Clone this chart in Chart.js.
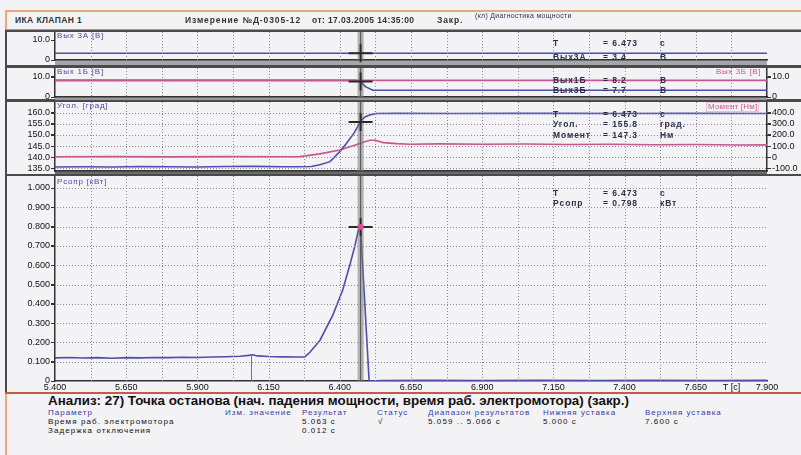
<!DOCTYPE html>
<html>
<head>
<meta charset="utf-8">
<script src="https://cdn.jsdelivr.net/npm/chart.js@4.4.0/dist/chart.umd.min.js"></script>
<style>
  body { margin: 0; width: 801px; height: 455px; background: #f3f3f6; position: relative; overflow: hidden;
         font-family: "Liberation Sans", Arial, sans-serif; color: #222; }
  .frame { position: absolute; left: 5px; top: 10px; width: 796px; height: 445px; box-sizing: border-box;
           border-left: 2px solid #eba680; border-top: 2px solid #eba680; }
  .titlebar { position: absolute; left: 5px; top: 12px; width: 796px; height: 17px; border-bottom: 1px solid #b49a86; }
  .panel { position: absolute; left: 5px; width: 796px; box-sizing: border-box; border-top: 2px solid #4a4a4a; border-left: 2px solid #4a4a4a; }
  canvas { position: absolute; left: 5px; }
  .t { position: absolute; white-space: nowrap; font-size: 8px; line-height: 10px; }
  .ro { font-weight: bold; color: #2e2e48; font-size: 8.5px; letter-spacing: 0.9px; }
  .lbl { color: #4a4aa8; font-size: 8px; letter-spacing: 0.8px; }
  .lblp { color: #c9568f; font-size: 8px; letter-spacing: 0.6px; }
  .hd { color: #3a3aa0; font-size: 8px; letter-spacing: 1px; }
  .row { color: #111; font-size: 8px; letter-spacing: 1.1px; }
  .ti { font-weight: bold; font-size: 8.5px; letter-spacing: 0.9px; color: #333; }
  .redline { position: absolute; left: 5px; top: 392px; width: 796px; height: 2px; background: #c8584a; }
</style>
</head>
<body>
<div class="frame"></div>
<div class="titlebar"></div>

<div class="panel" style="top:30px;height:36px;border-bottom:1px solid #4a4a4a"></div>
<div class="panel" style="top:66px;height:34px;border-bottom:1px solid #4a4a4a"></div>
<div class="panel" style="top:100px;height:74px"></div>
<div class="panel" style="top:174px;height:218px"></div>

<canvas id="p1" width="796" height="33" style="top:32px"></canvas>
<canvas id="p2" width="796" height="32" style="top:68px"></canvas>
<canvas id="p3" width="796" height="72" style="top:102px"></canvas>
<canvas id="p4" width="796" height="216" style="top:176px"></canvas>

<div class="redline"></div>

<!-- title row -->
<div class="t ti" style="left:15px;top:15px;letter-spacing:0.4px">ИКА КЛАПАН 1</div>
<div class="t ti" style="left:185px;top:15px">Измерение №Д-0305-12</div>
<div class="t ti" style="left:312px;top:15px;letter-spacing:0.4px">от: 17.03.2005 14:35:00</div>
<div class="t ti" style="left:437px;top:15px">Закр.</div>
<div class="t" style="left:475px;top:11px;font-size:7px;letter-spacing:0.3px;color:#33334a">(кл) Диагностика мощности</div>

<!-- series labels -->
<div class="t lbl" style="left:57px;top:31px">Вых 3А [В]</div>
<div class="t lbl" style="left:57px;top:67px">Вых 1Б [В]</div>
<div class="t lblp" style="left:716px;top:67px">Вых 3Б [В]</div>
<div class="t lbl" style="left:57px;top:101px">Угол. [град]</div>
<div class="t lblp" style="left:706px;top:102px;border:1px solid #e6c4d6;padding:0 1px;line-height:8px;letter-spacing:0.2px">Момент [Нм]</div>
<div class="t lbl" style="left:57px;top:177px">Рсопр [кВт]</div>

<!-- cursor readouts -->
<div class="t ro" style="left:553px;top:38px">T</div><div class="t ro" style="left:603px;top:38px">= 6.473</div><div class="t ro" style="left:660px;top:38px">с</div>
<div class="t ro" style="left:553px;top:52px">Вых3А</div><div class="t ro" style="left:603px;top:52px">= 3.4</div><div class="t ro" style="left:660px;top:52px">В</div>
<div class="t ro" style="left:553px;top:75px">Вых1Б</div><div class="t ro" style="left:603px;top:75px">= 8.2</div><div class="t ro" style="left:660px;top:75px">В</div>
<div class="t ro" style="left:553px;top:85px">Вых3Б</div><div class="t ro" style="left:603px;top:85px">= 7.7</div><div class="t ro" style="left:660px;top:85px">В</div>
<div class="t ro" style="left:553px;top:109px">T</div><div class="t ro" style="left:603px;top:109px">= 6.473</div><div class="t ro" style="left:660px;top:109px">с</div>
<div class="t ro" style="left:553px;top:119px">Угол.</div><div class="t ro" style="left:603px;top:119px">= 155.8</div><div class="t ro" style="left:660px;top:119px">град.</div>
<div class="t ro" style="left:553px;top:130px">Момент</div><div class="t ro" style="left:603px;top:130px">= 147.3</div><div class="t ro" style="left:660px;top:130px">Нм</div>
<div class="t ro" style="left:553px;top:188px">T</div><div class="t ro" style="left:603px;top:188px">= 6.473</div><div class="t ro" style="left:660px;top:188px">с</div>
<div class="t ro" style="left:553px;top:198px">Рсопр</div><div class="t ro" style="left:603px;top:198px">= 0.798</div><div class="t ro" style="left:660px;top:198px">кВт</div>

<!-- analysis block -->
<div class="t" style="left:48px;top:394px;font-size:13.4px;line-height:14px;font-weight:bold;color:#111">Анализ: 27) Точка останова (нач. падения мощности, время раб. электромотора) (закр.)</div>
<div class="t hd" style="left:48px;top:408px">Параметр</div>
<div class="t hd" style="left:225px;top:408px">Изм. значение</div>
<div class="t hd" style="left:302px;top:408px">Результат</div>
<div class="t hd" style="left:377px;top:408px">Статус</div>
<div class="t hd" style="left:428px;top:408px">Диапазон результатов</div>
<div class="t hd" style="left:543px;top:408px">Нижняя уставка</div>
<div class="t hd" style="left:645px;top:408px">Верхняя уставка</div>
<div class="t row" style="left:48px;top:417px">Время раб. электромотора</div>
<div class="t row" style="left:302px;top:417px">5.063 с</div>
<div class="t row" style="left:378px;top:417px">√</div>
<div class="t row" style="left:428px;top:417px">5.059 .. 5.066 с</div>
<div class="t row" style="left:543px;top:417px">5.000 с</div>
<div class="t row" style="left:645px;top:417px">7.600 с</div>
<div class="t row" style="left:48px;top:426px">Задержка отключения</div>
<div class="t row" style="left:302px;top:426px">0.012 с</div>

<script>
// time axis
const timeMin = 5.4, timeMax = 7.9;
const cursorT = 6.473;
const gridTimes = [5.4, 5.525, 5.65, 5.775, 5.9, 6.025, 6.15, 6.275, 6.4, 6.525, 6.65,
                   6.775, 6.9, 7.025, 7.15, 7.275, 7.4, 7.525, 7.65, 7.775, 7.9];
const xLabelTimes = [5.4, 5.65, 5.9, 6.15, 6.4, 6.65, 6.9, 7.15, 7.4, 7.65, 7.775, 7.9];
const xLabelTexts = ['5.400', '5.650', '5.900', '6.150', '6.400', '6.650', '6.900', '7.150', '7.400', '7.650', 'T [с]', '7.900'];

// panel 1: Вых 3А [В]
const out3aT = [5.4, 6.0, 6.5, 7.0, 7.9];
const out3aV = [3.4, 3.4, 3.4, 3.4, 3.4];
const p1Ticks = [0, 10];

// panel 2: Вых 1Б / Вых 3Б [В]
const out1bT = [5.4, 6.5, 7.9];
const out1bV = [8.3, 8.3, 8.3];
const out3bT = [5.4, 6.455, 6.473, 6.49, 6.516, 7.9];
const out3bV = [8.3, 8.3, 7.7, 5.2, 3.4, 3.4];
const p2Ticks = [0, 10];

// panel 3: Угол [град] (left), Момент [Нм] (right)
const angleT = [5.4, 5.5, 5.6, 5.7, 5.8, 5.9, 6.0, 6.1, 6.2, 6.25, 6.30, 6.33, 6.366, 6.40, 6.423, 6.45, 6.476, 6.49, 6.505, 6.529, 6.6, 6.8, 7.0, 7.2, 7.4, 7.6, 7.9];
const angleV = [135.6, 135.7, 135.6, 135.8, 135.7, 135.6, 135.8, 135.9, 135.7, 135.7, 135.8, 136.6, 138.0, 142.5, 146.2, 150.8, 156.7, 158.2, 159.0, 159.6, 159.7, 159.6, 159.7, 159.7, 159.6, 159.7, 159.6];
const momentT = [5.4, 5.6, 5.8, 6.0, 6.2, 6.26, 6.33, 6.40, 6.447, 6.482, 6.506, 6.524, 6.553, 6.60, 6.646, 6.75, 6.9, 7.05, 7.2, 7.35, 7.5, 7.65, 7.8, 7.9];
const momentV = [4, 5, 3, 5, 4, 5, 30, 65, 102, 135, 152, 152, 131, 122, 117, 120, 116, 119, 114, 116, 112, 114, 110, 111];
const angleTicks = [135, 140, 145, 150, 155, 160];
const momentTicks = [-100, 0, 100, 200, 300, 400];

// panel 4: Рсопр [кВт]
const powerT = [5.4, 5.45, 5.5, 5.55, 5.6, 5.65, 5.7, 5.75, 5.8, 5.85, 5.9, 5.95, 6.0, 6.05, 6.08, 6.095, 6.11, 6.15, 6.2, 6.25,
                6.277, 6.295, 6.33, 6.375, 6.41, 6.435, 6.453, 6.468, 6.473, 6.503, 6.55, 6.7, 6.9, 7.1, 7.3, 7.5, 7.7, 7.9];
const powerV = [0.120, 0.122, 0.119, 0.121, 0.118, 0.121, 0.120, 0.122, 0.121, 0.123, 0.122, 0.124, 0.126, 0.128, 0.133, 0.136, 0.130, 0.127, 0.125, 0.124,
                0.125, 0.149, 0.21, 0.34, 0.47, 0.60, 0.70, 0.80, 0.79, 0.0, 0.002, 0.003, 0.002, 0.003, 0.002, 0.003, 0.002, 0.003];
const powerTicks = [0, 0.1, 0.2, 0.3, 0.4, 0.5, 0.6, 0.7, 0.8, 0.9, 1.0];
const markT = 6.09, markV = 0.14;

const FONT = '"Liberation Sans", Arial, sans-serif';
const BLUE = '#4d4fa8';
const PINK = '#c9568f';
const GRID = '#8a8a98';

const pts = (ts, vs) => ts.map((t, i) => ({ x: t, y: vs[i] }));

function line(ts, vs, color, axis) {
  return { data: pts(ts, vs), borderColor: color, borderWidth: 1.6, pointRadius: 0, tension: 0, yAxisID: axis || 'y' };
}

function xScale(h, showLabels) {
  return {
    type: 'linear', min: timeMin, max: timeMax,
    afterBuildTicks: s => { s.ticks = gridTimes.map(v => ({ value: v })); },
    afterFit: s => { s.height = h; s.paddingLeft = 0; s.paddingRight = 0; },
    ticks: {
      display: showLabels, autoSkip: false, maxRotation: 0, padding: 1,
      font: { size: 9, family: FONT }, color: '#111',
      callback: v => {
        const i = xLabelTimes.findIndex(t => Math.abs(t - v) < 1e-6);
        return i < 0 ? '' : xLabelTexts[i];
      }
    },
    grid: { display: true, drawOnChartArea: false, color: GRID, lineWidth: 1, drawTicks: false },
    border: { display: true, color: '#333', width: 1.5, dash: [2, 2] }
  };
}

function yScale(pos, min, max, ticks, fmt, width) {
  return {
    position: pos, min: min, max: max,
    afterBuildTicks: s => { s.ticks = ticks.map(v => ({ value: v })); },
    afterFit: s => { s.width = width; s.paddingTop = 0; s.paddingBottom = 0; },
    ticks: { autoSkip: false, padding: 1, font: { size: 9, family: FONT }, color: '#111', callback: fmt },
    grid: { display: true, drawOnChartArea: false, color: GRID, lineWidth: 1, tickColor: '#333', tickLength: 4 },
    border: { display: true, color: '#333', width: 1.5, dash: [2, 2] }
  };
}

// dotted grid (1px dots) at the scale ticks + small tick marks on the value axes
const gridPlugin = {
  id: 'dotgrid',
  afterDatasetsDraw(chart, args, o) {
    const { ctx, chartArea: a, scales } = chart;
    ctx.save();
    ctx.fillStyle = GRID;
    scales.x.ticks.forEach(t => {
      const px = Math.round(scales.x.getPixelForValue(t.value));
      if (px <= a.left + 2 || px >= a.right - 1) return;
      for (let y = Math.ceil(a.top); y < a.bottom; y += 3) ctx.fillRect(px, y, 1, 1);
    });
    if (o.horizontal) {
      scales.y.ticks.forEach(t => {
        const py = Math.round(scales.y.getPixelForValue(t.value));
        if (py <= a.top || py >= a.bottom - 2) return;
        for (let x = Math.ceil(a.left) + 2; x < a.right; x += 3) ctx.fillRect(x, py, 1, 1);
      });
    }
    ctx.fillStyle = '#333';
    ['y', 'y2'].forEach(id => {
      const s = scales[id];
      if (!s) return;
      const left = s.position === 'left';
      s.ticks.forEach(t => {
        const py = Math.round(s.getPixelForValue(t.value));
        ctx.fillRect(left ? Math.round(a.left) - 4 : Math.round(a.right), py, 4, 1);
      });
    });
    ctx.restore();
  }
};

// gray time strip under the plot area
const stripPlugin = {
  id: 'strip',
  beforeDraw(chart, args, o) {
    if (!o.stripColor) return;
    const s = chart.scales.x;
    chart.ctx.save();
    chart.ctx.fillStyle = o.stripColor;
    chart.ctx.fillRect(s.left, s.top, s.width, s.height);
    chart.ctx.restore();
  }
};

// cursor line + crosshair at T = 6.473
const cursorPlugin = {
  id: 'cursor',
  afterDatasetsDraw(chart, args, o) {
    const { ctx, chartArea: a, scales } = chart;
    const x = scales.x.getPixelForValue(cursorT);
    ctx.save();
    ctx.fillStyle = 'rgba(120,120,120,0.55)';
    ctx.fillRect(x - 3, a.top, 6, a.bottom - a.top);
    ctx.strokeStyle = '#555';
    ctx.lineWidth = 1;
    ctx.beginPath(); ctx.moveTo(x, a.top); ctx.lineTo(x, a.bottom); ctx.stroke();
    if (o.mark) {
      const mx = scales.x.getPixelForValue(markT);
      ctx.strokeStyle = '#777';
      ctx.beginPath(); ctx.moveTo(mx, scales.y.getPixelForValue(markV)); ctx.lineTo(mx, a.bottom); ctx.stroke();
    }
    if (o.cursorValue != null) {
      const y = scales.y.getPixelForValue(o.cursorValue);
      ctx.strokeStyle = '#2a2a2a';
      ctx.lineWidth = 2;
      ctx.beginPath();
      ctx.moveTo(x - 12, y); ctx.lineTo(x + 12, y);
      ctx.moveTo(x, y - 9); ctx.lineTo(x, y + 9);
      ctx.stroke();
      if (o.dot) {
        ctx.fillStyle = '#e04a9a';
        ctx.beginPath(); ctx.arc(x, y, 3, 0, Math.PI * 2); ctx.fill();
      }
    }
    ctx.restore();
  }
};

const allPlugins = [stripPlugin, gridPlugin, cursorPlugin];

function baseOptions(padRight) {
  return {
    responsive: false, animation: false, devicePixelRatio: 1,
    layout: { padding: { left: 0, top: 0, bottom: 0, right: padRight } },
    plugins: { legend: { display: false }, tooltip: { enabled: false } }
  };
}

const fmt1 = v => v === 0 ? '0' : v.toFixed(1);
const fmt3 = v => v === 0 ? '0' : v.toFixed(3);

// panel 1
let o1 = baseOptions(34);
o1.scales = { x: xScale(5, false), y: yScale('left', 0, 14, p1Ticks, fmt1, 50) };
o1.plugins.strip = { stripColor: '#a6a6a8' };
o1.plugins.dotgrid = { horizontal: false };
o1.plugins.cursor = { cursorValue: 3.4 };
new Chart(document.getElementById('p1'), {
  type: 'line',
  data: { datasets: [line(out3aT, out3aV, BLUE)] },
  options: o1, plugins: allPlugins
});

// panel 2
let o2 = baseOptions(0);
o2.scales = {
  x: xScale(3, false),
  y: yScale('left', 0, 14.5, p2Ticks, fmt1, 50),
  y2: yScale('right', 0, 14.5, p2Ticks, fmt1, 34)
};
o2.plugins.strip = { stripColor: '#9a9a9c' };
o2.plugins.dotgrid = { horizontal: false };
o2.plugins.cursor = { cursorValue: 7.7 };
new Chart(document.getElementById('p2'), {
  type: 'line',
  data: { datasets: [line(out1bT, out1bV, PINK), line(out3bT, out3bV, BLUE)] },
  options: o2, plugins: allPlugins
});

// panel 3
let o3 = baseOptions(0);
o3.scales = {
  x: xScale(3, false),
  y: yScale('left', 133.8, 164.8, angleTicks, fmt1, 50),
  y2: yScale('right', -124, 496, momentTicks, fmt1, 34)
};
o3.plugins.strip = { stripColor: '#6a6a6c' };
o3.plugins.dotgrid = { horizontal: true };
o3.plugins.cursor = { cursorValue: 155.8 };
new Chart(document.getElementById('p3'), {
  type: 'line',
  data: { datasets: [line(angleT, angleV, BLUE), line(momentT, momentV, PINK, 'y2')] },
  options: o3, plugins: allPlugins
});

// panel 4
let o4 = baseOptions(34);
o4.scales = { x: xScale(11, true), y: yScale('left', 0, 1.0622, powerTicks, fmt3, 50) };
o4.plugins.dotgrid = { horizontal: true };
o4.plugins.cursor = { cursorValue: 0.798, dot: true, mark: true };
new Chart(document.getElementById('p4'), {
  type: 'line',
  data: { datasets: [line(powerT, powerV, BLUE)] },
  options: o4, plugins: allPlugins
});
</script>
</body>
</html>
